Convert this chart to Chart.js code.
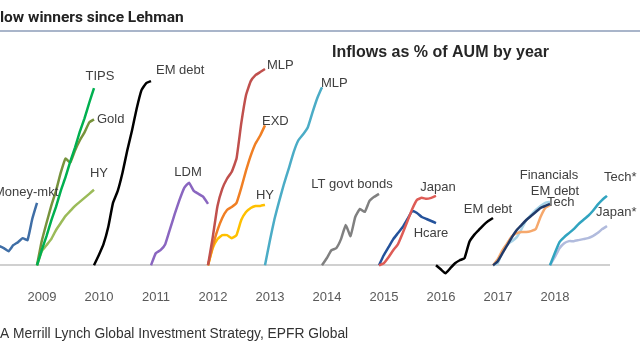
<!DOCTYPE html>
<html>
<head>
<meta charset="utf-8">
<script src="https://cdn.jsdelivr.net/npm/chart.js@4.4.1/dist/chart.umd.min.js"></script>
<style>
  html, body { margin: 0; padding: 0; background: #fff; }
  #flows { display: block; }
</style>
</head>
<body>
<canvas id="flows" width="640" height="360"></canvas>
<script>
const years = [2009, 2010, 2011, 2012, 2013, 2014, 2015, 2016, 2017, 2018];

// cumulative inflows as % of AUM, 13 roughly monthly readings per year
const moneyMkt2008 = [0, 1.4, 2.8, 3.4, 3.8, 3.4, 2.8, 4, 4.6, 5.4, 5, 9.2, 12.4];
const tips2009 = [0, 3.0, 5.8, 8.9, 11.6, 14.8, 17.5, 20.6, 23.4, 26.5, 29.2, 32.3, 35.2];
const gold2009 = [0, 4.8, 8.4, 11.8, 14.8, 18.4, 21.2, 20.4, 22.8, 24.8, 26.4, 28.4, 29];
const hy2009 = [0, 2.8, 4, 5.2, 7, 8.4, 9.8, 10.8, 11.8, 12.6, 13.4, 14.2, 15];
const emDebt2010 = [0, 2, 4.2, 7.6, 12.4, 14.8, 18.4, 22.8, 26.8, 31.2, 34.8, 36.2, 36.6];
const ldm2011 = [0, 2.4, 3, 4.2, 7.2, 10.2, 13, 15.4, 16.4, 14.8, 14.2, 13.6, 12.2];
const mlp2012 = [0, 5.6, 11.8, 15.2, 17.2, 18.6, 21.2, 28.2, 33.8, 36.6, 37.8, 38.4, 39];
const exd2012 = [0, 3.8, 7, 9.4, 11, 11.6, 12.4, 15.4, 18.8, 21.8, 24.2, 25.8, 27.8];
const hy2012 = [0, 3.4, 5.2, 6, 6, 5.4, 6, 9, 10.6, 11.4, 11.8, 11.8, 12];
const mlp2013 = [0, 4.8, 9.2, 12.8, 16.2, 19.2, 22.4, 24.8, 26, 27.4, 30.4, 33.2, 35.4];
const ltGovt2014 = [0, 1.4, 3, 3.4, 5.2, 8, 5.8, 9.6, 11.2, 10.6, 12.8, 13.6, 14.2];
const japan2015 = [0, 0.4, 1.6, 3, 4.2, 6.4, 8.8, 11.2, 13, 13.4, 13.2, 13.4, 13.8];
const hcare2015 = [0, 2, 3.6, 5.2, 6.4, 7.6, 9.2, 10.8, 10.4, 9.6, 9.2, 8.8, 8.4];
const emDebt2016 = [0, -0.8, -1.6, -0.6, 0.4, 1, 1.4, 4.6, 6, 7, 8, 8.8, 9.4];
const financials2017 = [0, 0.8, 2.4, 4, 5.6, 7, 8, 9, 9.8, 10.6, 11.4, 11.8, 12.2];
const emDebt2017 = [0, 1.2, 3, 4.4, 5.8, 6.4, 6.6, 6.6, 6.8, 7.2, 9.6, 11.4, 12];
const tech2017 = [0, 0.4, 2.8, 4.2, 4.8, 5.6, 7.2, 9, 10, 11, 11.8, 12.4, 12.6];
const techStar2018 = [0, 2.4, 4.6, 5.6, 6.4, 7.2, 8.2, 9, 9.8, 10.8, 12, 13, 13.8];
const japanStar2018 = [0, 1.6, 3.4, 4.4, 4.8, 4.8, 5, 5.2, 5.4, 5.8, 6.4, 7.2, 7.8];

// name, year, values, colour, label anchor [dx, dy, align]
const series = [
  ['Money-mkt', 2008, moneyMkt2008, '#3f6ea6', [-43, -10, 'left']],
  ['TIPS', 2009, tips2009, '#00b050', [6, -12, 'center']],
  ['Gold', 2009, gold2009, '#77933c', [3, 0, 'left']],
  ['HY', 2009, hy2009, '#9bbb59', [5, -16, 'center']],
  ['EM debt', 2010, emDebt2010, '#000000', [5, -11, 'left']],
  ['LDM', 2011, ldm2011, '#8a66c0', [-20, -31, 'center']],
  ['MLP', 2012, mlp2012, '#c0504d', [2, -4, 'left']],
  ['EXD', 2012, exd2012, '#f07f24', [-3, -4, 'left']],
  ['HY', 2012, hy2012, '#ffc000', [0, -9, 'center']],
  ['MLP', 2013, mlp2013, '#4bacc6', [-1, -4, 'left']],
  ['LT govt bonds', 2014, ltGovt2014, '#808080', [-27, -9, 'center']],
  ['Japan', 2015, japan2015, '#de5c56', [2, -8, 'center']],
  ['Hcare', 2015, hcare2015, '#24529b', [-5, 10, 'center']],
  ['EM debt', 2016, emDebt2016, '#000000', [-5, -9, 'center']],
  ['Financials', 2017, financials2017, '#203a6a', [-1, -28, 'center']],
  ['EM debt', 2017, emDebt2017, '#f6a86c', [5, -13, 'center']],
  ['Tech', 2017, tech2017, '#a8d4e8', [-3, 1, 'left']],
  ['Tech*', 2018, techStar2018, '#31a4c0', [-3, -18, 'left']],
  ['Japan*', 2018, japanStar2018, '#b1bbdd', [-11, -14, 'left']]
];

const datasets = series.map(([name, year, values, color]) => ({
  label: name,
  data: values.map((v, i) => ({ x: year + i / (values.length - 1), y: v })),
  borderColor: color,
  borderWidth: 2.5,
  pointRadius: 0,
  tension: 0.12,
  fill: false
}));

const seriesLabels = {
  id: 'seriesLabels',
  afterDatasetsDraw(chart) {
    const ctx = chart.ctx;
    ctx.save();
    ctx.font = '13px "Liberation Sans", Arial, sans-serif';
    ctx.fillStyle = '#404040';
    ctx.textBaseline = 'middle';
    series.forEach(([name, , , , [dx, dy, align]], i) => {
      const pts = chart.getDatasetMeta(i).data;
      const end = pts[pts.length - 1];
      ctx.textAlign = align;
      ctx.fillText(name, end.x + dx, end.y + dy);
    });
    ctx.restore();
  }
};

const frame = {
  id: 'frame',
  afterDraw(chart) {
    const ctx = chart.ctx;
    ctx.save();
    ctx.fillStyle = '#222222';
    ctx.textBaseline = 'middle';
    ctx.textAlign = 'left';
    ctx.font = 'bold 15.5px Roboto, sans-serif';
    ctx.fillText('low winners since Lehman', 0, 18);
    ctx.fillStyle = '#a9b5ca';
    ctx.fillRect(0, 30, 640, 2);
    ctx.fillStyle = '#262626';
    ctx.font = 'bold 16px "Liberation Sans", Arial, sans-serif';
    ctx.fillText('Inflows as % of AUM by year', 332, 53);
    ctx.fillStyle = '#333333';
    ctx.font = '13.8px "Liberation Sans", Arial, sans-serif';
    ctx.fillText('A Merrill Lynch Global Investment Strategy, EPFR Global', 0, 334);
    ctx.restore();
  }
};

new Chart(document.getElementById('flows'), {
  type: 'line',
  data: { datasets },
  options: {
    responsive: false,
    animation: false,
    layout: { padding: { top: 64, bottom: 46, left: 0, right: 30 } },
    plugins: { legend: { display: false }, tooltip: { enabled: false } },
    scales: {
      x: {
        type: 'linear',
        min: 2009 - 37 / 57,
        max: 2009 + 573 / 57,
        afterBuildTicks: (axis) => { axis.ticks = years.map((v) => ({ value: v })); },
        grid: { display: false, drawTicks: false },
        border: { display: false },
        ticks: {
          autoSkip: false,
          maxRotation: 0,
          padding: 9,
          labelOffset: 5,
          color: '#595959',
          font: { family: '"Liberation Sans", Arial, sans-serif', size: 13 },
          callback: (v) => String(v)
        }
      },
      y: {
        min: -3,
        max: 40,
        ticks: { display: false },
        border: { display: false },
        grid: {
          drawTicks: false,
          lineWidth: 2,
          color: (c) => (c.tick && c.tick.value === 0 ? '#d0d0d0' : 'rgba(0,0,0,0)')
        }
      }
    }
  },
  plugins: [seriesLabels, frame]
});
</script>
</body>
</html>
